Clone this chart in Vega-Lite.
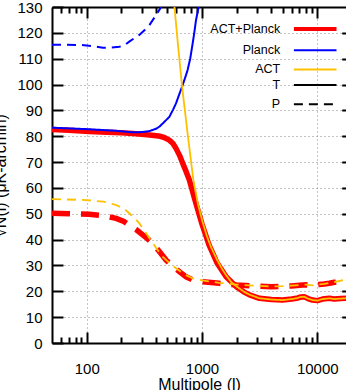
{
"$schema": "https://vega.github.io/schema/vega-lite/v6.json",
"width": 294, "height": 336,
"autosize": {"type": "none"},
"padding": {"left": 52, "top": 7, "right": 0, "bottom": 47},
"config": {"font": "Liberation Sans", "view": {"stroke": null}},
"data": {"values": [
{"exp":"ACT+Planck","pol":"T","l":50,"v":82.6},{"exp":"ACT+Planck","pol":"T","l":70,"v":82.3},{"exp":"ACT+Planck","pol":"T","l":105,"v":81.8},{"exp":"ACT+Planck","pol":"T","l":150,"v":81.5},{"exp":"ACT+Planck","pol":"T","l":200,"v":81.3},{"exp":"ACT+Planck","pol":"T","l":250,"v":81.1},{"exp":"ACT+Planck","pol":"T","l":300,"v":80.8},{"exp":"ACT+Planck","pol":"T","l":350,"v":80.5},{"exp":"ACT+Planck","pol":"T","l":420,"v":80.1},{"exp":"ACT+Planck","pol":"T","l":470,"v":79.5},{"exp":"ACT+Planck","pol":"T","l":520,"v":78.5},{"exp":"ACT+Planck","pol":"T","l":560,"v":77.2},{"exp":"ACT+Planck","pol":"T","l":595,"v":75.3},{"exp":"ACT+Planck","pol":"T","l":640,"v":72.5},{"exp":"ACT+Planck","pol":"T","l":680,"v":69.5},{"exp":"ACT+Planck","pol":"T","l":730,"v":66.2},{"exp":"ACT+Planck","pol":"T","l":777,"v":63.1},{"exp":"ACT+Planck","pol":"T","l":880,"v":54.5},{"exp":"ACT+Planck","pol":"T","l":1000,"v":46},{"exp":"ACT+Planck","pol":"T","l":1150,"v":38},{"exp":"ACT+Planck","pol":"T","l":1350,"v":31},{"exp":"ACT+Planck","pol":"T","l":1620,"v":25.6},{"exp":"ACT+Planck","pol":"T","l":1980,"v":21.8},{"exp":"ACT+Planck","pol":"T","l":2300,"v":19.8},{"exp":"ACT+Planck","pol":"T","l":2580,"v":18.6},{"exp":"ACT+Planck","pol":"T","l":3150,"v":17.3},{"exp":"ACT+Planck","pol":"T","l":4000,"v":16.8},{"exp":"ACT+Planck","pol":"T","l":5000,"v":16.6},{"exp":"ACT+Planck","pol":"T","l":6000,"v":17.0},{"exp":"ACT+Planck","pol":"T","l":6600,"v":17.3},{"exp":"ACT+Planck","pol":"T","l":7200,"v":17.8},{"exp":"ACT+Planck","pol":"T","l":7700,"v":17.9},{"exp":"ACT+Planck","pol":"T","l":8300,"v":17.2},{"exp":"ACT+Planck","pol":"T","l":9100,"v":16.6},{"exp":"ACT+Planck","pol":"T","l":10000,"v":16.4},{"exp":"ACT+Planck","pol":"T","l":11100,"v":17.0},{"exp":"ACT+Planck","pol":"T","l":12700,"v":17.3},{"exp":"ACT+Planck","pol":"T","l":14000,"v":17.0},{"exp":"ACT+Planck","pol":"T","l":16000,"v":17.2},{"exp":"ACT+Planck","pol":"T","l":17740,"v":17.3},
{"exp":"ACT+Planck","pol":"P","l":50,"v":50.2},{"exp":"ACT+Planck","pol":"P","l":105,"v":49.8},{"exp":"ACT+Planck","pol":"P","l":140,"v":49.3},{"exp":"ACT+Planck","pol":"P","l":180,"v":48.2},{"exp":"ACT+Planck","pol":"P","l":210,"v":47},{"exp":"ACT+Planck","pol":"P","l":234,"v":45.6},{"exp":"ACT+Planck","pol":"P","l":270,"v":43.8},{"exp":"ACT+Planck","pol":"P","l":306,"v":41.8},{"exp":"ACT+Planck","pol":"P","l":340,"v":40.2},{"exp":"ACT+Planck","pol":"P","l":373,"v":38.6},{"exp":"ACT+Planck","pol":"P","l":430,"v":35.2},{"exp":"ACT+Planck","pol":"P","l":488,"v":32.1},{"exp":"ACT+Planck","pol":"P","l":560,"v":29.6},{"exp":"ACT+Planck","pol":"P","l":636,"v":27.6},{"exp":"ACT+Planck","pol":"P","l":728,"v":25.6},{"exp":"ACT+Planck","pol":"P","l":830,"v":24.4},{"exp":"ACT+Planck","pol":"P","l":1010,"v":23.7},{"exp":"ACT+Planck","pol":"P","l":1415,"v":23.1},{"exp":"ACT+Planck","pol":"P","l":2000,"v":22.4},{"exp":"ACT+Planck","pol":"P","l":3000,"v":22.0},{"exp":"ACT+Planck","pol":"P","l":4000,"v":21.8},{"exp":"ACT+Planck","pol":"P","l":5000,"v":21.9},{"exp":"ACT+Planck","pol":"P","l":6000,"v":22.1},{"exp":"ACT+Planck","pol":"P","l":7000,"v":22.3},{"exp":"ACT+Planck","pol":"P","l":8000,"v":22.5},{"exp":"ACT+Planck","pol":"P","l":9100,"v":22.2},{"exp":"ACT+Planck","pol":"P","l":10300,"v":22.6},{"exp":"ACT+Planck","pol":"P","l":11500,"v":22.8},{"exp":"ACT+Planck","pol":"P","l":12700,"v":23.1},{"exp":"ACT+Planck","pol":"P","l":14500,"v":23.6},{"exp":"ACT+Planck","pol":"P","l":16700,"v":24.2},{"exp":"ACT+Planck","pol":"P","l":17740,"v":24.3},
{"exp":"Planck","pol":"T","l":50,"v":83.3},{"exp":"Planck","pol":"T","l":105,"v":82.7},{"exp":"Planck","pol":"T","l":180,"v":82.1},{"exp":"Planck","pol":"T","l":250,"v":81.5},{"exp":"Planck","pol":"T","l":300,"v":81.6},{"exp":"Planck","pol":"T","l":350,"v":82},{"exp":"Planck","pol":"T","l":400,"v":82.9},{"exp":"Planck","pol":"T","l":430,"v":83.8},{"exp":"Planck","pol":"T","l":470,"v":85.5},{"exp":"Planck","pol":"T","l":521,"v":87.5},{"exp":"Planck","pol":"T","l":560,"v":90.2},{"exp":"Planck","pol":"T","l":595,"v":92.7},{"exp":"Planck","pol":"T","l":630,"v":95.8},{"exp":"Planck","pol":"T","l":672,"v":99.2},{"exp":"Planck","pol":"T","l":710,"v":102.3},{"exp":"Planck","pol":"T","l":750,"v":105.6},{"exp":"Planck","pol":"T","l":790,"v":110},{"exp":"Planck","pol":"T","l":830,"v":115.9},{"exp":"Planck","pol":"T","l":860,"v":120.5},{"exp":"Planck","pol":"T","l":887,"v":124.9},{"exp":"Planck","pol":"T","l":935,"v":130},{"exp":"Planck","pol":"T","l":980,"v":135},
{"exp":"Planck","pol":"P","l":50,"v":115.4},{"exp":"Planck","pol":"P","l":90,"v":115.3},{"exp":"Planck","pol":"P","l":115,"v":114.8},{"exp":"Planck","pol":"P","l":138,"v":114.2},{"exp":"Planck","pol":"P","l":165,"v":114.3},{"exp":"Planck","pol":"P","l":192,"v":114.6},{"exp":"Planck","pol":"P","l":215,"v":115.4},{"exp":"Planck","pol":"P","l":234,"v":116.6},{"exp":"Planck","pol":"P","l":260,"v":118},{"exp":"Planck","pol":"P","l":286,"v":119.2},{"exp":"Planck","pol":"P","l":320,"v":121.2},{"exp":"Planck","pol":"P","l":350,"v":123},{"exp":"Planck","pol":"P","l":400,"v":126.9},{"exp":"Planck","pol":"P","l":442,"v":130},{"exp":"Planck","pol":"P","l":480,"v":133},
{"exp":"ACT","pol":"T","l":530,"v":145},{"exp":"ACT","pol":"T","l":577,"v":130},{"exp":"ACT","pol":"T","l":620,"v":115},{"exp":"ACT","pol":"T","l":672,"v":99.2},{"exp":"ACT","pol":"T","l":750,"v":81},{"exp":"ACT","pol":"T","l":842,"v":63},{"exp":"ACT","pol":"T","l":920,"v":54},{"exp":"ACT","pol":"T","l":1000,"v":47.6},{"exp":"ACT","pol":"T","l":1100,"v":41.5},{"exp":"ACT","pol":"T","l":1200,"v":37},{"exp":"ACT","pol":"T","l":1350,"v":32.2},{"exp":"ACT","pol":"T","l":1500,"v":28.5},{"exp":"ACT","pol":"T","l":1620,"v":26.2},{"exp":"ACT","pol":"T","l":1800,"v":23.5},{"exp":"ACT","pol":"T","l":1980,"v":22},{"exp":"ACT","pol":"T","l":2300,"v":19.9},{"exp":"ACT","pol":"T","l":2580,"v":18.7},{"exp":"ACT","pol":"T","l":3150,"v":17.3},{"exp":"ACT","pol":"T","l":4000,"v":16.8},{"exp":"ACT","pol":"T","l":5000,"v":16.6},{"exp":"ACT","pol":"T","l":6000,"v":17.0},{"exp":"ACT","pol":"T","l":6600,"v":17.3},{"exp":"ACT","pol":"T","l":7200,"v":17.8},{"exp":"ACT","pol":"T","l":7700,"v":17.9},{"exp":"ACT","pol":"T","l":8300,"v":17.2},{"exp":"ACT","pol":"T","l":9100,"v":16.6},{"exp":"ACT","pol":"T","l":10000,"v":16.4},{"exp":"ACT","pol":"T","l":11100,"v":17.0},{"exp":"ACT","pol":"T","l":12700,"v":17.3},{"exp":"ACT","pol":"T","l":14000,"v":17.0},{"exp":"ACT","pol":"T","l":16000,"v":17.2},{"exp":"ACT","pol":"T","l":17740,"v":17.3},
{"exp":"ACT","pol":"P","l":50,"v":55.7},{"exp":"ACT","pol":"P","l":99,"v":55.3},{"exp":"ACT","pol":"P","l":140,"v":54.7},{"exp":"ACT","pol":"P","l":180,"v":53.4},{"exp":"ACT","pol":"P","l":210,"v":52},{"exp":"ACT","pol":"P","l":234,"v":50.2},{"exp":"ACT","pol":"P","l":260,"v":48.3},{"exp":"ACT","pol":"P","l":286,"v":46.3},{"exp":"ACT","pol":"P","l":320,"v":43.2},{"exp":"ACT","pol":"P","l":350,"v":40.5},{"exp":"ACT","pol":"P","l":400,"v":36.8},{"exp":"ACT","pol":"P","l":455,"v":33.4},{"exp":"ACT","pol":"P","l":520,"v":31},{"exp":"ACT","pol":"P","l":595,"v":28.9},{"exp":"ACT","pol":"P","l":700,"v":26.6},{"exp":"ACT","pol":"P","l":830,"v":25.0},{"exp":"ACT","pol":"P","l":1000,"v":24.2},{"exp":"ACT","pol":"P","l":1240,"v":23.7},{"exp":"ACT","pol":"P","l":1415,"v":23.3},{"exp":"ACT","pol":"P","l":2000,"v":22.6},{"exp":"ACT","pol":"P","l":3000,"v":22.1},{"exp":"ACT","pol":"P","l":4000,"v":21.9},{"exp":"ACT","pol":"P","l":5000,"v":22.0},{"exp":"ACT","pol":"P","l":6000,"v":22.2},{"exp":"ACT","pol":"P","l":7000,"v":22.4},{"exp":"ACT","pol":"P","l":8000,"v":22.6},{"exp":"ACT","pol":"P","l":9100,"v":22.3},{"exp":"ACT","pol":"P","l":10300,"v":22.7},{"exp":"ACT","pol":"P","l":11500,"v":22.9},{"exp":"ACT","pol":"P","l":12700,"v":23.2},{"exp":"ACT","pol":"P","l":14500,"v":23.7},{"exp":"ACT","pol":"P","l":16700,"v":24.3},{"exp":"ACT","pol":"P","l":17740,"v":24.4}
]},
"encoding": {
  "x": {"field": "l", "type": "quantitative", "scale": {"type": "log", "domain": [50, 17740], "nice": false}},
  "y": {"field": "v", "type": "quantitative", "scale": {"domain": [0, 130], "nice": false}},
  "color": {"field": "exp", "type": "nominal", "scale": {"domain": ["ACT+Planck", "Planck", "ACT"], "range": ["#ff0000", "#0000ff", "#ffc000"]},
    "legend": {"orient": "none", "legendX": 256.95, "legendY": 15.75, "title": null, "padding": 0, "columns": 1, "symbolType": "stroke", "symbolSize": 1815, "symbolDash": [1, 0], "rowPadding": 6.2, "labelAlign": "right", "labelOffset": -41.25, "labelFontSize": 12.5, "labelColor": "black", "labelFont": "Liberation Sans",
      "encode": {"symbols": {"update": {"strokeWidth": {"signal": "datum.value === 'ACT+Planck' ? 4 : 2"}, "strokeDash": {"value": [1, 0]}}}}}}
},
"layer": [
  {"transform": [{"filter": "datum.exp == 'ACT+Planck' && datum.pol == 'T'"}],
   "mark": {"type": "line", "clip": true, "strokeJoin": "round", "strokeWidth": 5.5},
   "encoding": {
     "x": {"field": "l", "type": "quantitative", "axis": {"orient": "bottom",
        "values": [60,70,80,90,100,200,300,400,500,600,700,800,900,1000,2000,3000,4000,5000,6000,7000,8000,9000,10000],
        "tickSize": {"condition": {"test": "datum.value == 100 || datum.value == 1000 || datum.value == 10000", "value": -11}, "value": -6},
        "tickWidth": 2, "tickColor": "black", "domainWidth": 2, "domainColor": "black",
        "grid": true, "gridOpacity": {"condition": {"test": "datum.value == 100 || datum.value == 1000 || datum.value == 10000", "value": 1}, "value": 0},
        "gridDash": [1, 3], "gridColor": "#888888", "gridWidth": 1,
        "labelExpr": "datum.value == 100 || datum.value == 1000 || datum.value == 10000 ? toString(datum.value) : ''",
        "labelFontSize": 15, "labelColor": "black", "labelPadding": 29, "labelFlush": false, "labelOverlap": false,
        "title": "Multipole (l)", "titleFontSize": 16, "titleFontWeight": "normal", "titleColor": "black", "titlePadding": -5}},
     "y": {"field": "v", "type": "quantitative", "axis": {"orient": "left",
        "values": [0,10,20,30,40,50,60,70,80,90,100,110,120,130],
        "tickSize": -11, "tickWidth": 2, "tickColor": "black", "domainWidth": 2, "domainColor": "black",
        "grid": true, "gridDash": [1, 3], "gridColor": "#888888", "gridWidth": 1,
        "labelFontSize": 15, "labelColor": "black", "labelPadding": 21,
        "title": "√N(l) (μK-arcmin)", "titleFontSize": 16, "titleFontWeight": "normal", "titleColor": "black", "titlePadding": 8}}
   }},
  {"transform": [{"filter": "datum.exp == 'ACT+Planck' && datum.pol == 'P'"}],
   "mark": {"type": "line", "clip": true, "strokeDash": [18, 11], "strokeWidth": 5.5},
   "encoding": {
     "x": {"field": "l", "type": "quantitative", "axis": {"orient": "top",
        "values": [60,70,80,90,100,200,300,400,500,600,700,800,900,1000,2000,3000,4000,5000,6000,7000,8000,9000,10000],
        "tickSize": {"condition": {"test": "datum.value == 100 || datum.value == 1000 || datum.value == 10000", "value": -11}, "value": -6},
        "tickWidth": 2, "tickColor": "black", "domainWidth": 2, "domainColor": "black",
        "grid": false, "labels": false, "title": null}},
     "y": {"field": "v", "type": "quantitative", "axis": {"orient": "right", "offset": 6.7,
        "values": [10,20,30,40,50,60,70,80,90,100,110,120],
        "tickSize": -11, "tickWidth": 2, "tickColor": "black", "domainWidth": 2, "domainColor": "black",
        "grid": false, "labels": false, "title": null}}
   }},
  {"transform": [{"filter": "datum.exp == 'Planck'"}],
   "mark": {"type": "line", "clip": true, "strokeWidth": 2},
   "encoding": {
     "x": {"field": "l", "type": "quantitative", "axis": null},
     "y": {"field": "v", "type": "quantitative", "axis": null},
     "strokeDash": {"field": "pol", "type": "nominal", "scale": {"domain": ["T", "P"], "range": [[1, 0], [9, 6]]},
        "legend": {"orient": "none", "legendX": 256.95, "legendY": 71.75, "title": null, "padding": 0, "columns": 1, "symbolType": "stroke", "symbolSize": 1815, "symbolStrokeColor": "black", "rowPadding": 6.2, "labelAlign": "right", "labelOffset": -41.25, "labelFontSize": 12.5, "labelColor": "black", "labelFont": "Liberation Sans",
          "encode": {"symbols": {"update": {"strokeWidth": {"signal": "datum.value === 'T' ? 2 : 2"}, "stroke": {"value": "black"}}}}}}
   }},
  {"transform": [{"filter": "datum.exp == 'ACT'"}],
   "mark": {"type": "line", "clip": true, "strokeWidth": 1.8},
   "encoding": {
     "x": {"field": "l", "type": "quantitative", "axis": null},
     "y": {"field": "v", "type": "quantitative", "axis": null},
     "strokeDash": {"field": "pol", "type": "nominal", "scale": {"domain": ["T", "P"], "range": [[1, 0], [9, 6]]}}
   }}
],
"resolve": {"axis": {"x": "independent", "y": "independent"}}
}
